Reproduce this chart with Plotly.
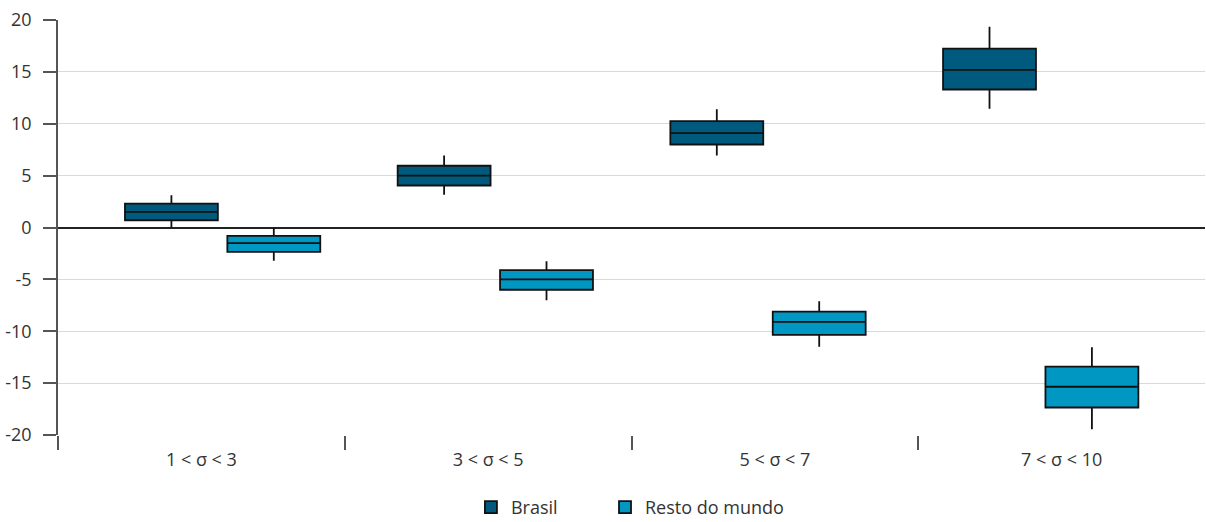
import numpy as np
import plotly.graph_objects as go

# ---- data ----
categories = ["1 < σ < 3", "3 < σ < 5", "5 < σ < 7", "7 < σ < 10"]

brasil_lower = [0.0, 3.15, 6.95, 11.45]
brasil_q1 = [0.7, 4.05, 8.0, 13.3]
brasil_median = [1.5, 5.0, 9.1, 15.2]
brasil_q3 = [2.3, 5.95, 10.25, 17.25]
brasil_upper = [3.1, 6.95, 11.4, 19.35]

resto_lower = [-3.2, -7.0, -11.5, -19.45]
resto_q1 = [-2.35, -6.0, -10.35, -17.35]
resto_median = [-1.5, -5.0, -9.1, -15.35]
resto_q3 = [-0.8, -4.1, -8.1, -13.4]
resto_upper = [0.0, -3.25, -7.1, -11.55]

y_tick_values = [-20, -15, -10, -5, 0, 5, 10, 15, 20]
y_tick_labels = ["-20", "-15", "-10", "-5", "0", "5", "10", "15", "20"]

# ---- layout constants ----
SLOT_STEP = 0.951
BRASIL_START = -0.1045
RESTO_START = 0.2526
BOX_WIDTH = 0.324

idx = np.arange(len(categories))
brasil_x = BRASIL_START + idx * SLOT_STEP
resto_x = RESTO_START + idx * SLOT_STEP

FONT = "Open Sans"

fig = go.Figure()
fig.add_trace(go.Box(
    name="Brasil", x=brasil_x, q1=brasil_q1, median=brasil_median, q3=brasil_q3,
    lowerfence=brasil_lower, upperfence=brasil_upper,
    fillcolor="#005a7d", line=dict(color="#111111", width=1.8),
    whiskerwidth=0, width=BOX_WIDTH, boxpoints=False, hoverinfo="y",
    legend="legend",
))
fig.add_trace(go.Box(
    name="Resto do mundo", x=resto_x, q1=resto_q1, median=resto_median, q3=resto_q3,
    lowerfence=resto_lower, upperfence=resto_upper,
    fillcolor="#0097c3", line=dict(color="#111111", width=1.8),
    whiskerwidth=0, width=BOX_WIDTH, boxpoints=False, hoverinfo="y",
    legend="legend2",
))

legend_style = dict(orientation="h", xanchor="left", y=-0.13, yanchor="top",
                    font=dict(family=FONT, size=18, color="#333333"),
                    itemwidth=30, bgcolor="rgba(0,0,0,0)")

fig.update_layout(
    width=1206, height=522,
    margin=dict(l=58, r=1, t=20, b=87, autoexpand=False),
    paper_bgcolor="white", plot_bgcolor="white",
    boxmode="overlay",
    font=dict(family=FONT, size=18, color="#333333"),
    showlegend=True,
    legend=dict(x=0.360, **legend_style),
    legend2=dict(x=0.4769, **legend_style),
)
fig.update_yaxes(
    range=[-20, 20], tickmode="array", tickvals=y_tick_values, ticktext=y_tick_labels,
    automargin=False,
    showgrid=True, gridcolor="#d9d9d9", gridwidth=1,
    zeroline=True, zerolinecolor="#222222", zerolinewidth=1.5,
    showline=True, linecolor="#555555", linewidth=1.5,
    ticks="outside", ticklen=13, tickcolor="#555555", tickwidth=1.5,
    ticklabelstandoff=8,
    tickfont=dict(family=FONT, size=18, color="#333333"),
)
fig.update_xaxes(
    range=[-0.5, len(categories) - 0.5], tickmode="array", tickvals=idx, ticktext=categories,
    automargin=False,
    showgrid=False, zeroline=False, showline=False, ticks="",
    ticklabelstandoff=12,
    tickfont=dict(family=FONT, size=18, color="#333333"),
    minor=dict(tickmode="array", tickvals=list(np.arange(len(categories)) - 0.5),
               ticks="outside", ticklen=14, tickcolor="#555555", tickwidth=1.5, showgrid=False),
)

fig.write_html("out.html", config={"displayModeBar": False},
               post_script="document.body.style.margin='0';document.body.style.overflow='hidden';")
